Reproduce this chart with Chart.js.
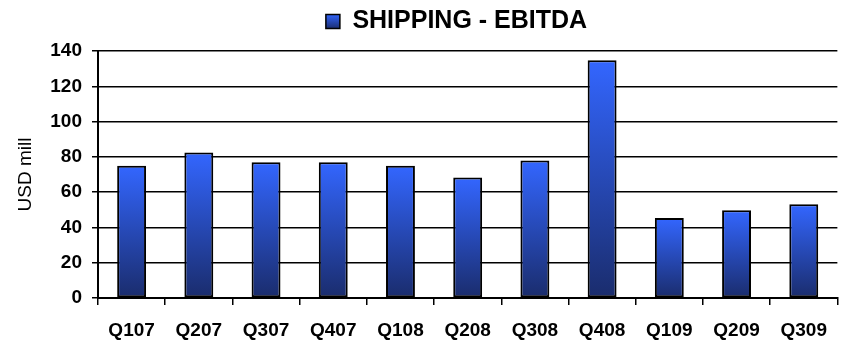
<!DOCTYPE html>
<html>
<head>
<meta charset="utf-8">
<script src="https://cdn.jsdelivr.net/npm/chart.js@4"></script>
<style>
html,body{margin:0;padding:0;background:#fff;}
#wrap{width:841px;height:342px;position:relative;}
</style>
</head>
<body>
<div id="wrap"><canvas id="c" width="841" height="342"></canvas></div>
<script>
const categories = ['Q107','Q207','Q307','Q407','Q108','Q208','Q308','Q408','Q109','Q209','Q309'];
const ebitda = [75, 82.5, 77, 77, 75, 68.3, 78, 134.7, 45.4, 49.8, 53.1];
const seriesName = 'SHIPPING - EBITDA';
const yTicks = [0, 20, 40, 60, 80, 100, 120, 140];
const yTitle = 'USD mill';

const TOP = '#3366ff', BOTTOM = '#1a2c6c';
const FONT = "'Liberation Sans', Arial, sans-serif";

function barGradient(ctx) {
  const chart = ctx.chart;
  if (!chart.chartArea || !chart.scales.y) return TOP;
  const y = chart.scales.y;
  const top = y.getPixelForValue(ctx.raw);
  const bot = y.getPixelForValue(0);
  const g = chart.ctx.createLinearGradient(0, top, 0, bot);
  g.addColorStop(0, TOP);
  g.addColorStop(1, BOTTOM);
  return g;
}

const cv = document.getElementById('c');
const c2d = cv.getContext('2d');

const shiftLegend = {
  id: 'shiftLegend',
  afterLayout(chart) {
    if (chart.legend) { chart.legend.left += 36; chart.legend.right += 36; }
  }
};

new Chart(cv, {
  type: 'bar',
  data: {
    labels: categories,
    datasets: [{
      label: seriesName,
      data: ebitda,
      backgroundColor: barGradient,
      borderColor: '#000',
      borderWidth: 2,
      borderSkipped: false,
      barPercentage: 0.43,
      categoryPercentage: 1
    }]
  },
  plugins: [shiftLegend],
  options: {
    responsive: false,
    animation: false,
    devicePixelRatio: 1,
    layout: { padding: { left: 0, right: 0, top: 0, bottom: 0 } },
    plugins: {
      tooltip: { enabled: false },
      title: {
        display: true,
        text: '',
        weight: 500,
        font: { size: 7, lineHeight: 1 },
        padding: 0
      },
      legend: {
        position: 'top',
        labels: {
          color: '#000',
          font: { family: FONT, size: 25, weight: 'bold' },
          boxWidth: 14,
          boxHeight: 14,
          padding: 9,
          generateLabels(chart) {
            const g = c2d.createLinearGradient(0, 14, 0, 29);
            g.addColorStop(0, TOP);
            g.addColorStop(1, BOTTOM);
            return [{
              text: seriesName,
              fillStyle: g,
              strokeStyle: '#000',
              lineWidth: 1.5,
              datasetIndex: 0,
              hidden: false
            }];
          }
        }
      }
    },
    scales: {
      x: {
        grid: {
          offset: true,
          drawOnChartArea: false,
          drawTicks: true,
          tickLength: 7,
          color: '#000',
          lineWidth: 1.5
        },
        border: { display: true, color: '#000', width: 2 },
        ticks: {
          color: '#000',
          font: { family: FONT, size: 19, weight: 'bold' },
          padding: 14,
          maxRotation: 0,
          autoSkip: false
        },
        afterFit(scale) { scale.height = 44; }
      },
      y: {
        min: 0,
        max: 140,
        afterBuildTicks(scale) { scale.ticks = yTicks.map(v => ({ value: v })); },
        grid: {
          color: '#000',
          lineWidth: 1.5,
          drawTicks: true,
          tickLength: 6
        },
        border: { display: true, color: '#000', width: 2 },
        ticks: {
          color: '#000',
          font: { family: FONT, size: 19, weight: 'bold' },
          padding: 10
        },
        title: {
          display: true,
          text: yTitle,
          color: '#000',
          font: { family: FONT, size: 19, weight: 'normal' },
          padding: { top: 14, bottom: 0 }
        },
        afterFit(scale) { scale.width = 98; }
      }
    }
  }
});
</script>
</body>
</html>
